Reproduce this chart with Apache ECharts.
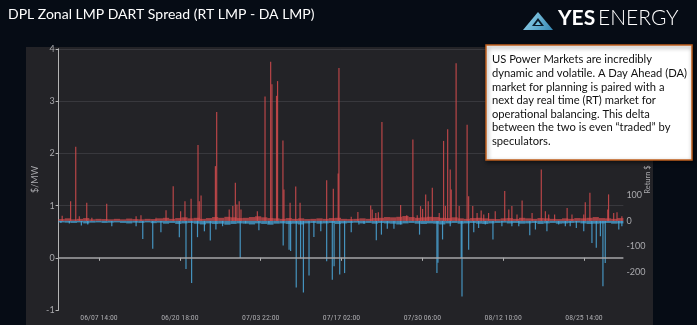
<!DOCTYPE html>
<html><head><meta charset="utf-8">
<script src="https://cdn.jsdelivr.net/npm/echarts@6/dist/echarts.min.js"></script>
<style>html,body{margin:0;padding:0;background:#060c15;}#c{width:697px;height:325px;}</style>
</head><body><div id="c"></div>
<script>
// ---------- data ----------
const titleText = 'DPL Zonal LMP DART Spread (RT LMP - DA LMP)';
const noteLines = [
  'US Power Markets are incredibly',
  'dynamic and volatile. A Day Ahead (DA)',
  'market for planning is paired with a',
  'next day real time (RT) market for',
  'operational balancing. This delta',
  'between the two is even \u201Ctraded\u201D by',
  'speculators.'
];
const xTickHours = [158, 474, 790, 1106, 1422, 1738, 2054];   // hours since 06/01 00:00
const xTickLabels = ['06/07 14:00', '06/20 18:00', '07/03 22:00', '07/17 02:00', '07/30 06:00', '08/12 10:00', '08/25 14:00'];
const leftTicks = [-1, 0, 1, 2, 3, 4];
const rightTicks = [-200, -100, 0, 100];

// daily background spread (Return $), June 1 .. Aug 31
const dailyPos = [7,10,6,8,11,6,8,7,6,8, 6,9,7,6,8,7,10,12,8,11, 14,10,12,8,11,15,12,16,14,11,
  12,15,18,14,11,10,8,11,8,10, 7,8,10,8,11,12,8,7,8,10, 8,11,12,15,14,16,19,15,12,14, 16,
  15,12,11,14,10,8,11,12,10,8, 7,10,11,8,12,10,8,11,10,8, 7,10,8,11,10,12,15,11,10,8, 11];
const dailyNeg = [-6,-7,-8,-6,-10,-7,-6,-8,-7,-6, -8,-10,-7,-8,-6,-9,-7,-11,-8,-12, -10,-8,-11,-14,-10,-12,-11,-15,-12,-10,
  -11,-14,-10,-12,-15,-11,-10,-12,-11,-14, -10,-8,-11,-10,-8,-12,-10,-8,-7,-10, -8,-11,-8,-10,-11,-14,-10,-8,-11,-12, -10,
  -11,-14,-10,-8,-11,-10,-8,-11,-12,-10, -8,-7,-10,-8,-11,-10,-8,-12,-10,-8, -11,-10,-8,-7,-10,-12,-11,-10,-8,-11, -10];

// hourly spikes [hour since 06/01 00:00, Return $]
const posSpikes = [
  [14,20],[47,77],[67,291],[81,18],[110,71],[130,12],[188,67],[303,18],[322,22],[381,12],
  [420,42],[448,136],[477,38],[494,77],[518,87],[545,298],[550,77],[557,100],[613,215],[618,428],
  [667,45],[681,58],[691,150],[697,64],[706,77],[713,45],
  [777,38],[807,488],[829,625],[834,537],[852,491],[856,549],[877,316],[881,123],[905,71],[927,135],
  [944,71],[1048,160],[1074,126],[1093,186],[1096,600],[1144,16],[1170,35],[1220,60],[1226,45],[1240,31],
  [1250,34],[1264,388],[1337,62],[1361,22],[1385,320],[1402,22],[1415,58],[1423,47],[1435,104],[1445,77],
  [1461,130],[1488,31],[1505,314],[1512,58],[1521,360],[1531,202],[1535,123],[1554,619],[1566,58],[1597,378],
  [1603,97],[1619,58],[1636,31],[1652,41],[1662,25],[1681,31],[1707,38],[1744,117],[1760,45],[1772,58],
  [1792,25],[1812,80],[1851,31],[1887,202],[1903,38],[1916,25],[1939,25],[1988,51],[2007,25],[2053,25],
  [2059,73],[2077,110],[2147,45],[2150,104],[2170,31],[2183,34],[2202,18]
];
const negSpikes = [
  [9,-8],[42,-10],[89,-18],[114,-14],[208,-21],[303,-21],[329,-71],[368,-109],[400,-45],[472,-64],
  [498,-189],[520,-244],[543,-64],[570,-41],[593,-77],[615,-34],[641,-21],[710,-146],
  [731,-10],[783,-37],[822,-10],[878,-97],[901,-113],[907,-118],[929,-262],[946,-147],[957,-281],[979,-215],
  [998,-63],[1025,-41],[1048,-159],[1070,-231],[1077,-178],[1099,-211],[1118,-205],[1144,-45],[1174,-14],[1194,-12],
  [1242,-76],[1262,-54],[1285,-31],[1311,-31],[1337,-14],[1411,-54],
  [1479,-205],[1483,-164],[1501,-73],[1531,-21],[1574,-146],[1577,-297],[1603,-113],[1623,-45],[1642,-28],[1668,-14],
  [1698,-73],[1733,-21],[1772,-21],[1799,-21],[1842,-56],[1864,-34],[1909,-41],[1955,-14],[1981,-21],[2000,-21],
  [2024,-28],[2053,-41],[2085,-87],[2102,-106],[2118,-60],[2128,-257],[2137,-165],[2190,-34],[2202,-21]
];

// ---------- chart ----------
const RED = '#d24b4d', BLUE = '#4ba7d9';
const AXC = '#b4b4b4', LBL = '#a9a9ad';
const FONT = 'Lato, "Open Sans", sans-serif';
const NARROW = '"Liberation Sans Narrow", "Roboto Condensed", Lato, sans-serif';
const chart = echarts.init(document.getElementById('c'), null, {renderer: 'canvas'});

const fuzzData = dailyPos.map((v, i) => [i * 24 + 12, v]).concat(dailyNeg.map((v, i) => [i * 24 + 12, v]));
const spikeData = posSpikes.concat(negSpikes);
const signColor = p => (p.value[1] >= 0 ? RED : BLUE);

const hiddenX = {type: 'value', min: 0, max: 2208, show: false};

chart.setOption({
  animation: false,
  backgroundColor: '#060c15',
  grid: {left: 58.6, right: 73.6, top: 49, bottom: 15, containLabel: false},
  graphic: [
    {type: 'rect', z: -10, shape: {x: 26, y: 47, width: 627, height: 278}, style: {fill: '#232327'}},
    {type: 'text', left: 8, top: 7, style: {text: titleText, fill: '#ffffff', font: '14px ' + FONT}},
    {type: 'polygon', shape: {points: [[523, 30], [538, 12], [553, 30]]},
      style: {fill: new echarts.graphic.LinearGradient(0, 0, 1, 1, [{offset: 0, color: '#9adaf0'}, {offset: 1, color: '#3487b3'}])}},
    {type: 'polygon', shape: {points: [[532, 26], [538, 18], [544, 26]]}, style: {fill: '#0a1a28'}},
    {type: 'polygon', shape: {points: [[535, 25], [538, 21], [541, 25]]}, style: {fill: '#6fc0e0'}},
    {type: 'text', left: 558, top: 8, style: {text: 'YES', fill: '#ffffff', font: 'bold 21px ' + FONT}},
    {type: 'text', left: 598, top: 8, style: {text: 'ENERGY', fill: '#ffffff', font: '300 21px ' + FONT}},
    {type: 'rect', z: 50, shape: {x: 486, y: 45, width: 206, height: 115},
      style: {fill: '#ffffff', stroke: '#c0601f', lineWidth: 1.5, shadowBlur: 4, shadowColor: 'rgba(0,0,0,0.5)', shadowOffsetX: 1, shadowOffsetY: 2}},
    {type: 'text', z: 51, left: 492, top: 53, style: {text: noteLines.join('\n'), fill: '#111111', font: '11.2px ' + FONT, lineHeight: 13.6}}
  ],
  xAxis: [
    {type: 'value', min: 0, max: 2208,
      axisLine: {show: false},
      axisTick: {show: true, customValues: xTickHours, length: 3, lineStyle: {color: AXC}},
      axisLabel: {customValues: xTickHours, formatter: v => xTickLabels[xTickHours.indexOf(v)], color: LBL, fontSize: 7.8, margin: 4, fontFamily: NARROW},
      splitLine: {show: false}},
    hiddenX
  ],
  yAxis: [
    {type: 'value', position: 'left', min: -1, max: 4, interval: 1,
      axisLine: {show: true, lineStyle: {color: AXC}},
      axisTick: {show: true, length: 3, lineStyle: {color: AXC}},
      axisLabel: {color: LBL, fontSize: 9, margin: 4, fontFamily: FONT},
      splitLine: {show: true, lineStyle: {color: ['rgba(0,0,0,0)', 'rgba(0,0,0,0)', '#38383d', '#38383d', '#38383d', '#38383d']}},
      name: '$/MW', nameLocation: 'middle', nameGap: 19, nameRotate: 90, nameMoveOverlap: false,
      nameTextStyle: {color: LBL, fontSize: 9, fontFamily: FONT}},
    {type: 'value', position: 'right', min: -350, max: 675,
      axisLine: {show: true, lineStyle: {color: AXC}},
      axisTick: {show: false},
      axisLabel: {customValues: rightTicks, color: LBL, fontSize: 9, margin: 3, fontFamily: FONT},
      splitLine: {show: false},
      name: 'Return $', nameLocation: 'middle', nameGap: 20, nameRotate: 90, nameMoveOverlap: false,
      nameTextStyle: {color: LBL, fontSize: 7.5, fontFamily: FONT}}
  ],
  series: [
    {type: 'line', xAxisIndex: 0, yAxisIndex: 0, data: [], silent: true,
      markLine: {silent: true, symbol: 'none', label: {show: false}, animation: false,
        lineStyle: {color: '#a6a6a8', width: 1.5, type: 'solid'}, data: [{yAxis: leftTicks[1]}]}},
    {type: 'bar', name: 'fuzz', xAxisIndex: 1, yAxisIndex: 1, barWidth: 6.2, data: fuzzData,
      itemStyle: {color: signColor, opacity: 0.75}, z: 2},
    {type: 'bar', name: 'spikes', xAxisIndex: 0, yAxisIndex: 1, barWidth: 1.2, data: spikeData,
      itemStyle: {color: signColor, opacity: 0.85}, z: 3}
  ]
});
</script>
</body></html>
